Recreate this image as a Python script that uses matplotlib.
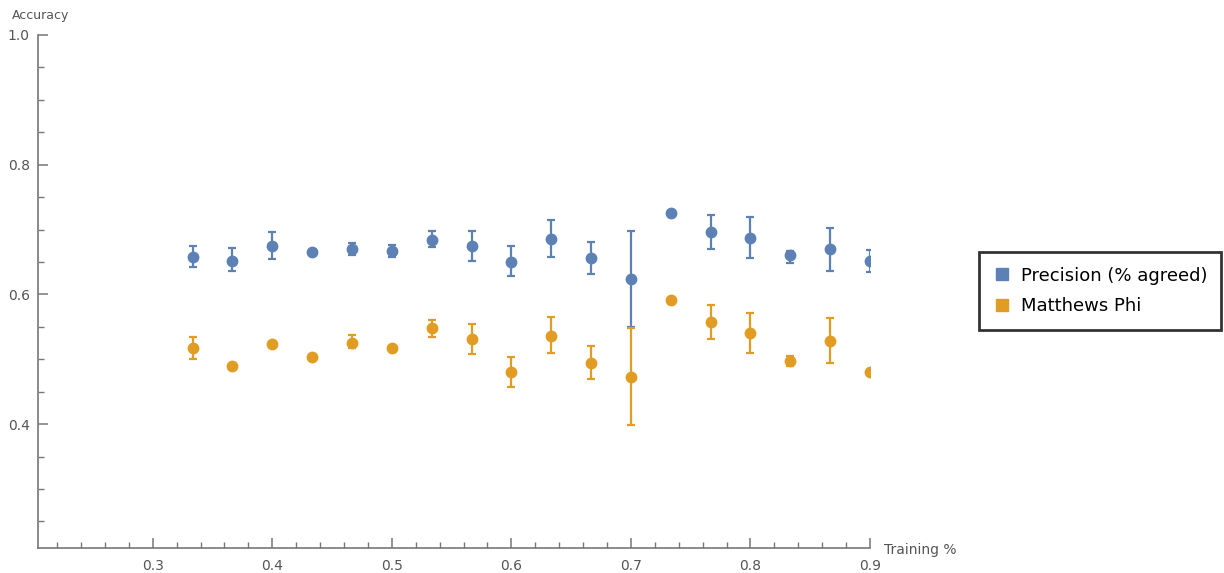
import matplotlib
matplotlib.use("Agg")
import matplotlib.pyplot as plt
import numpy as np
from matplotlib.ticker import MultipleLocator
from matplotlib.lines import Line2D

# Data
training = [10/30, 11/30, 12/30, 13/30, 14/30, 15/30, 16/30, 17/30, 18/30,
            19/30, 20/30, 21/30, 22/30, 23/30, 24/30, 25/30, 26/30, 27/30]

precision = [0.657, 0.652, 0.675, 0.665, 0.670, 0.667, 0.684, 0.675, 0.650,
             0.685, 0.656, 0.624, 0.726, 0.697, 0.687, 0.661, 0.670, 0.651]
precision_lo = [0.643, 0.636, 0.654, 0.665, 0.661, 0.657, 0.673, 0.652, 0.628,
                0.658, 0.631, 0.550, 0.726, 0.670, 0.656, 0.649, 0.636, 0.635]
precision_hi = [0.675, 0.671, 0.697, 0.665, 0.680, 0.676, 0.698, 0.698, 0.675,
                0.714, 0.681, 0.698, 0.726, 0.723, 0.719, 0.667, 0.703, 0.668]

phi = [0.517, 0.490, 0.523, 0.504, 0.525, 0.517, 0.548, 0.531, 0.480,
       0.536, 0.494, 0.473, 0.592, 0.558, 0.541, 0.497, 0.528, 0.480]
phi_lo = [0.501, 0.490, 0.523, 0.504, 0.517, 0.517, 0.534, 0.508, 0.458,
          0.509, 0.470, 0.398, 0.592, 0.532, 0.509, 0.490, 0.495, 0.480]
phi_hi = [0.534, 0.490, 0.523, 0.504, 0.537, 0.517, 0.560, 0.554, 0.504,
          0.565, 0.521, 0.548, 0.592, 0.584, 0.572, 0.505, 0.563, 0.480]

series_names = ["Precision (% agreed)", "Matthews Phi"]
colors = ["#5E81B5", "#E19C24"]

fig = plt.figure(figsize=(12.24, 5.73), dpi=100)
ax = fig.add_axes([38/1224, 1 - 548/573, (870 - 38)/1224, (548 - 35)/573])

def draw(vals, lo, hi, color):
    v = np.array(vals)
    yerr = np.vstack([v - np.array(lo), np.array(hi) - v])
    cont = ax.errorbar(training, v, yerr=yerr, fmt='o', color=color, ms=7.5,
                       elinewidth=1.6, capsize=3, capthick=1.6, zorder=3)
    for child in cont.get_children():
        child.set_clip_on(True)
        child.set_clip_path(ax.patch)

draw(precision, precision_lo, precision_hi, colors[0])
draw(phi, phi_lo, phi_hi, colors[1])

ax.set_xlim(0.204, 0.9)
ax.set_ylim(0.209, 1.0)

for s in ["top", "right"]:
    ax.spines[s].set_visible(False)
for s in ["left", "bottom"]:
    ax.spines[s].set_color("#777777")
    ax.spines[s].set_linewidth(1.2)

ax.xaxis.set_minor_locator(MultipleLocator(0.02))
ax.yaxis.set_minor_locator(MultipleLocator(0.05))
ax.set_xticks([0.3, 0.4, 0.5, 0.6, 0.7, 0.8, 0.9])
ax.set_xticklabels(["0.3", "0.4", "0.5", "0.6", "0.7", "0.8", "0.9"])
ax.set_yticks([0.4, 0.6, 0.8, 1.0])
ax.set_yticklabels(["0.4", "0.6", "0.8", "1.0"])
ax.tick_params(which="major", direction="in", length=7, width=1.1, color="#777777",
               labelcolor="#555555", labelsize=10)
ax.tick_params(which="minor", direction="in", length=4, width=1.0, color="#777777")
ax.tick_params(axis="x", pad=8)
ax.tick_params(axis="y", pad=6)

fig.text(12/1224, 1 - 16/573, "Accuracy", fontsize=9, color="#555555", va="center", ha="left")
fig.text(884/1224, 1 - 550/573, "Training %", fontsize=10, color="#555555", va="center", ha="left")

handles = [Line2D([], [], marker='s', linestyle='none', color=c, ms=9) for c in colors]
leg = fig.legend(handles, series_names, loc="center left",
                 bbox_to_anchor=(979/1224, 1 - 291/573), frameon=True, fancybox=False,
                 fontsize=13, handletextpad=0.5, borderpad=0.8, labelspacing=0.7,
                 handlelength=1.0, borderaxespad=0)
leg.get_frame().set_edgecolor("black")
leg.get_frame().set_linewidth(2)

fig.savefig("out.png", dpi=100)
